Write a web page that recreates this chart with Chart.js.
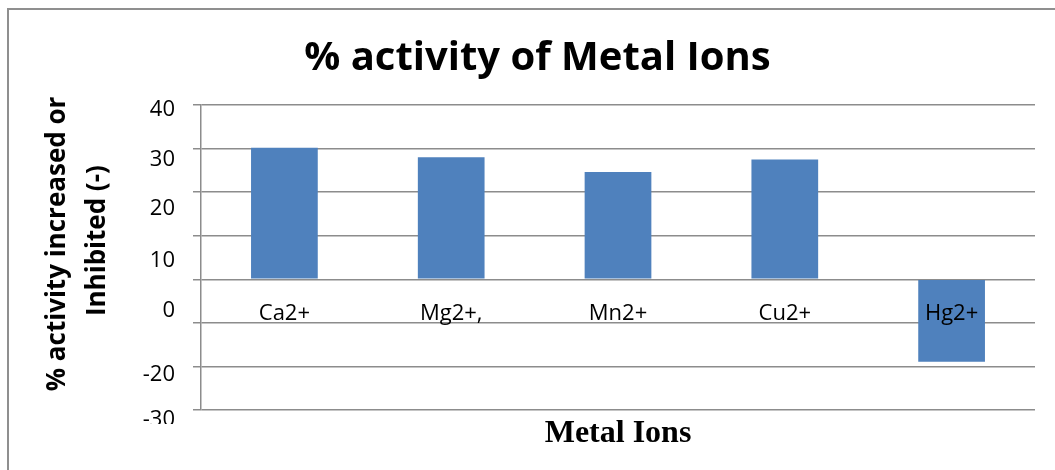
<!DOCTYPE html>
<html>
<head>
<meta charset="utf-8">
<title>% activity of Metal Ions</title>
<script src="https://cdn.jsdelivr.net/npm/chart.js@4.4.1/dist/chart.umd.min.js"></script>
<style>
    html, body { margin: 0; padding: 0; background: #ffffff; }
    #wrap { position: relative; width: 1055px; height: 470px; overflow: hidden; }
    /* I draw the outer chart frame (only left and top edges are visible in the picture) */
    #frame {
        position: absolute; left: 7px; top: 8px; width: 1200px; height: 600px;
        border-left: 2px solid #8f8f8f; border-top: 2px solid #8f8f8f;
        pointer-events: none;
    }
</style>
</head>
<body>
<div id="wrap">
    <canvas id="chart-canvas" width="1055" height="470"></canvas>
    <div id="frame"></div>
</div>
<script>
// I keep the data in small arrays
const metalIons = ['Ca2+', 'Mg2+,', 'Mn2+', 'Cu2+', 'Hg2+'];
const activityValues = [30.2, 28.0, 24.6, 27.5, -18.9];
const yTickValues = [40, 30, 20, 10, 0, -20, -30];
const yTickLabels = ['40', '30', '20', '10', '0', '-20', '-30'];

// The tick labels in the picture drift below their grid lines, so I nudge each one (px)
const yLabelShift = [5, 11, 17, 25, 31, 8, 10];

const barColor = '#4f81bd';
const gridColor = '#8c8c8c';
const textFont = 'Open Sans';

// I draw the value labels of the y axis myself so they can keep the drift of the original
const yTickLabelPlugin = {
    id: 'yTickLabels',
    afterDraw(chart) {
        const scale = chart.scales.y;
        const ctx = chart.ctx;
        ctx.save();
        // the bottom label is cut off in the picture
        ctx.beginPath();
        ctx.rect(0, 0, chart.width, 424);
        ctx.clip();
        ctx.font = '22px "' + textFont + '"';
        ctx.fillStyle = '#000000';
        ctx.textAlign = 'right';
        ctx.textBaseline = 'middle';
        yTickValues.forEach((v, i) => {
            ctx.fillText(yTickLabels[i], scale.right - 26, scale.getPixelForValue(v) + yLabelShift[i]);
        });
        ctx.restore();
    }
};

const canvas = document.getElementById('chart-canvas');

new Chart(canvas, {
    type: 'bar',
    data: {
        labels: metalIons,
        datasets: [{
            label: '% activity',
            data: activityValues,
            backgroundColor: barColor,
            borderWidth: 0,
            barPercentage: 1,
            categoryPercentage: 0.4
        }]
    },
    options: {
        responsive: false,
        animation: false,
        layout: { padding: { left: 40, right: 20, top: 0, bottom: 0 } },
        plugins: {
            legend: { display: false },
            tooltip: { enabled: false },
            title: {
                display: true,
                text: '% activity of Metal Ions',
                color: '#000000',
                font: { family: textFont, size: 40, weight: 'bold', lineHeight: 1.2 },
                padding: { top: 35, bottom: 22 }
            }
        },
        scales: {
            // I place the category labels right under the zero line, like Excel does
            x: {
                position: { y: 0 },
                grid: { display: false, drawTicks: false },
                border: { display: false },
                ticks: {
                    z: 1, // the Hg2+ label sits on top of its bar
                    color: '#000000',
                    font: { family: textFont, size: 22 },
                    padding: 21,
                    maxRotation: 0,
                    autoSkip: false
                }
            },
            // I use an empty bottom axis only to hold the axis title
            xTitle: {
                type: 'category',
                position: 'bottom',
                grid: { display: false, drawTicks: false },
                border: { display: false },
                ticks: { display: false },
                title: {
                    display: true,
                    text: 'Metal Ions',
                    color: '#000000',
                    font: { family: 'Liberation Serif', size: 32, weight: 'bold', lineHeight: 1.2 },
                    padding: { top: 4.8, bottom: 16.8 }
                }
            },
            y: {
                min: -30,
                max: 40,
                ticks: { stepSize: 10, display: false },
                grid: { color: gridColor, lineWidth: 1.5, drawTicks: true, tickLength: 8 },
                border: { display: true, color: gridColor, width: 1.5 },
                title: {
                    display: true,
                    // leading spaces lift the text a little, as in the picture
                    text: ['    % activity increased or', '     Inhibited (-)'],
                    color: '#000000',
                    font: { family: textFont, size: 26, weight: 'bold', lineHeight: 1.54 },
                    padding: { top: -2, bottom: 0 }
                },
                afterFit(scale) {
                    // I fix the width so the plot starts at the same x as the picture
                    scale.width = 161;
                }
            }
        }
    },
    plugins: [yTickLabelPlugin]
});
</script>
</body>
</html>
